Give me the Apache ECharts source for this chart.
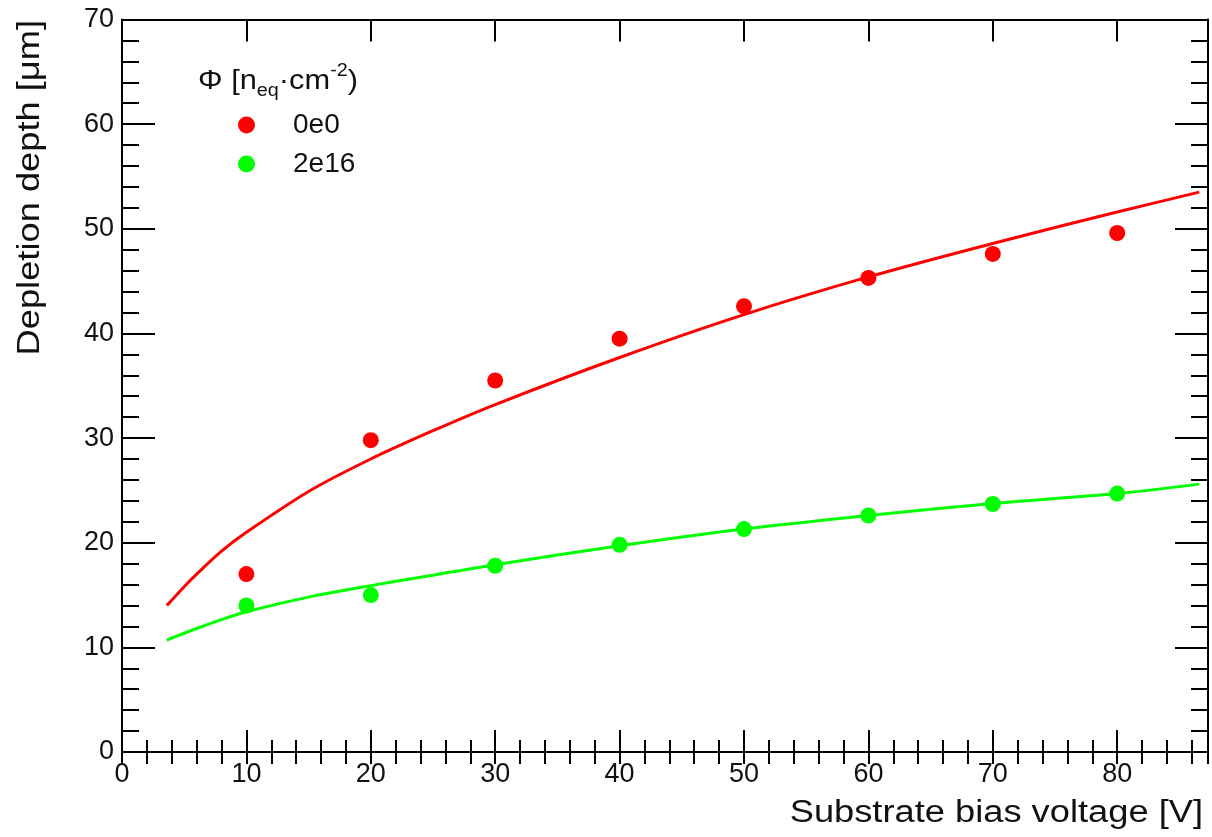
<!DOCTYPE html>
<html>
<head>
<meta charset="utf-8">
<script src="https://cdn.jsdelivr.net/npm/echarts@6/dist/echarts.min.js"></script>
<style>
  html, body { margin: 0; padding: 0; background: #fff; }
  #main { width: 1212px; height: 837px; }
</style>
</head>
<body>
<div id="main"></div>
<script>
// measured points
var volt = [10, 20, 30, 40, 50, 60, 70, 80];
var depth0e0 = [17.0, 29.8, 35.5, 39.5, 42.6, 45.3, 47.6, 49.6];
var depth2e16 = [14.0, 15.0, 17.8, 19.8, 21.3, 22.6, 23.7, 24.7];

// fit curves
var fitVolt = [3.6, 5, 6, 8, 10, 15, 20, 25, 30, 40, 50, 60, 70, 80, 86.6];
var fit0e0 = [14.0, 15.8, 17.0, 19.2, 21.0, 24.9, 28.0, 30.7, 33.2, 37.7, 41.8, 45.4, 48.6, 51.6, 53.5];
var fit2e16 = [10.7, 11.35, 11.8, 12.65, 13.4, 14.8, 15.9, 16.9, 17.9, 19.7, 21.3, 22.6, 23.75, 24.7, 25.6];

var yTicks = [0, 10, 20, 30, 40, 50, 60, 70];

function pairs(xs, ys) {
    return xs.map(function (x, i) { return [x, ys[i]]; });
}

var myChart = echarts.init(document.getElementById('main'));

var font = 'Liberation Sans, Arial, Helvetica, sans-serif';
var frame = { show: true, onZero: false, lineStyle: { color: '#000', width: 2 } };

function xAx(pos, interval, len, labels, line) {
    return {
        type: 'value', position: pos, min: 0, max: 87.3, interval: interval,
        axisLine: line ? frame : { show: false },
        axisTick: { show: true, inside: true, length: len, lineStyle: { color: '#000', width: 2 } },
        axisLabel: labels ? {
            show: true, fontSize: 27, color: '#111', fontFamily: font, margin: 9,
            showMaxLabel: false
        } : { show: false },
        splitLine: { show: false }
    };
}

function yAx(pos, labels) {
    return {
        type: 'value', position: pos, min: yTicks[0], max: yTicks[yTicks.length - 1], interval: 10,
        axisLine: frame,
        axisTick: { show: true, inside: true, length: 33, lineStyle: { color: '#000', width: 2 } },
        minorTick: { show: true, splitNumber: 5, length: 17, lineStyle: { color: '#000', width: 2 } },
        axisLabel: labels ? { show: true, fontSize: 27, color: '#111', fontFamily: font, margin: 8 } : { show: false },
        splitLine: { show: false }
    };
}

var option = {
    animation: false,
    backgroundColor: '#fff',
    grid: { left: 122, right: 4, top: 19.5, bottom: 85, containLabel: false },
    xAxis: [
        xAx('bottom', 10, 22, true, true),
        xAx('bottom', 2, 12, false, false),
        xAx('top', 10, 22, false, true),
        xAx('top', 2, 12, false, false)
    ],
    yAxis: [
        yAx('left', true),
        yAx('right', false)
    ],
    legend: {
        data: ['0e0', '2e16'],
        orient: 'vertical',
        left: 233,
        top: 106,
        itemGap: 11,
        itemWidth: 17,
        itemHeight: 17,
        icon: 'circle',
        textStyle: { fontSize: 28, color: '#111', fontFamily: font, padding: [0, 0, 0, 33] }
    },
    graphic: [
        {
            type: 'text', left: 198, top: 62, scaleX: 1.1,
            style: {
                text: '{b|Φ [n}{s|eq}{b|·cm}{p|-2}{b|)}',
                rich: {
                    b: { fontSize: 28, fontFamily: font, fill: '#111', lineHeight: 38, verticalAlign: 'middle' },
                    s: { fontSize: 18, fontFamily: font, fill: '#111', lineHeight: 18, verticalAlign: 'bottom' },
                    p: { fontSize: 18, fontFamily: font, fill: '#111', lineHeight: 18, verticalAlign: 'top' }
                }
            }
        },
        {
            type: 'text', x: 1203, y: 813, scaleX: 1.17,
            style: {
                text: 'Substrate bias voltage [V]', fontSize: 31, fontFamily: font, fill: '#111',
                align: 'right', verticalAlign: 'middle'
            }
        },
        {
            type: 'text', x: 30, y: 20, rotation: Math.PI / 2, scaleX: 1.17,
            style: {
                text: 'Depletion depth [μm]', fontSize: 31, fontFamily: font, fill: '#111',
                align: 'right', verticalAlign: 'middle'
            }
        }
    ],
    series: [
        {
            name: 'fit 0e0', type: 'line', xAxisIndex: 0, yAxisIndex: 0,
            data: pairs(fitVolt, fit0e0), smooth: 0.3,
            showSymbol: false, lineStyle: { color: '#ff0000', width: 3 }, z: 2
        },
        {
            name: 'fit 2e16', type: 'line', xAxisIndex: 0, yAxisIndex: 0,
            data: pairs(fitVolt, fit2e16), smooth: 0.3,
            showSymbol: false, lineStyle: { color: '#00ff00', width: 3 }, z: 2
        },
        {
            name: '0e0', type: 'scatter', xAxisIndex: 0, yAxisIndex: 0,
            data: pairs(volt, depth0e0), symbol: 'circle', symbolSize: 16,
            itemStyle: { color: '#ff0000', opacity: 1 }, z: 3
        },
        {
            name: '2e16', type: 'scatter', xAxisIndex: 0, yAxisIndex: 0,
            data: pairs(volt, depth2e16), symbol: 'circle', symbolSize: 16,
            itemStyle: { color: '#00ff00', opacity: 1 }, z: 3
        }
    ]
};

myChart.setOption(option);
</script>
</body>
</html>
